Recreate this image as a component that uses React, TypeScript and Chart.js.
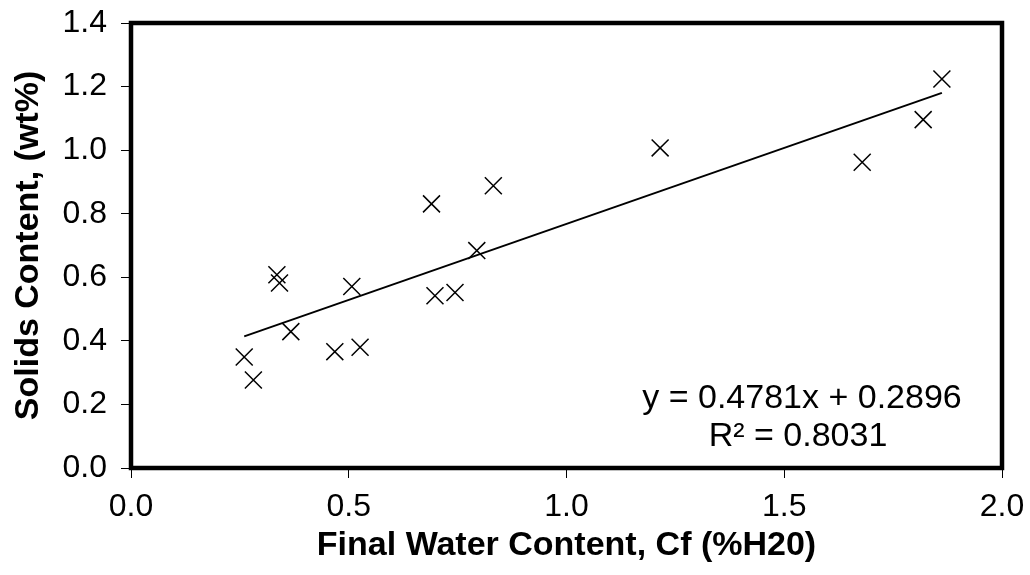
import React, { useEffect, useRef } from "react";
import { Chart, registerables } from "chart.js";

Chart.register(...registerables);

const waterContent = [0.260, 0.281, 0.335, 0.341, 0.367, 0.468, 0.507, 0.526, 0.690, 0.698, 0.744, 0.794, 0.832, 1.215, 1.679, 1.819, 1.862];
const solidsContent = [0.349, 0.277, 0.608, 0.582, 0.429, 0.366, 0.571, 0.380, 0.831, 0.542, 0.552, 0.684, 0.888, 1.007, 0.962, 1.096, 1.224];
const trendX = [0.260, 1.862];
const trendY = [0.414, 1.180];
const equationLines = ["y = 0.4781x + 0.2896", "R² = 0.8031"];
const xTicks = [0.0, 0.5, 1.0, 1.5, 2.0];
const yTicks = [0.0, 0.2, 0.4, 0.6, 0.8, 1.0, 1.2, 1.4];
const xTitle = "Final Water Content, Cf (%H20)";
const yTitle = "Solids Content, (wt%)";

const FONT = "'Liberation Sans', Arial, sans-serif";

export default function App() {
  const ref = useRef<HTMLCanvasElement | null>(null);

  useEffect(() => {
    if (!ref.current) return;
    const frame = {
      id: "frame",
      afterDatasetsDraw(chart: any) {
        const { ctx, chartArea: a } = chart;
        ctx.save();
        ctx.strokeStyle = "#000";
        ctx.lineWidth = 4.5;
        ctx.strokeRect(a.left, a.top, a.right - a.left, a.bottom - a.top);
        ctx.fillStyle = "#000";
        ctx.font = `34px ${FONT}`;
        ctx.textAlign = "center";
        ctx.textBaseline = "alphabetic";
        ctx.fillText(equationLines[0], a.left + 671, 408);
        ctx.fillText(equationLines[1], a.left + 667, 446);
        ctx.restore();
      },
    };
    const chart = new Chart(ref.current, {
      type: "scatter",
      data: {
        datasets: [
          {
            label: "data",
            data: waterContent.map((x, i) => ({ x, y: solidsContent[i] })),
            pointStyle: "crossRot",
            pointRadius: 12,
            pointHoverRadius: 12,
            borderColor: "#000",
            backgroundColor: "#000",
            pointBorderWidth: 1.5,
            showLine: false,
          },
          {
            label: "trend",
            data: trendX.map((x, i) => ({ x, y: trendY[i] })),
            showLine: true,
            borderColor: "#000",
            borderWidth: 2,
            pointRadius: 0,
            fill: false,
          },
        ],
      },
      options: {
        animation: false,
        responsive: true,
        maintainAspectRatio: false,
        layout: { padding: { top: 23, right: 28, left: 0, bottom: 0 } },
        plugins: { legend: { display: false }, tooltip: { enabled: false } },
        scales: {
          x: {
            type: "linear",
            min: 0,
            max: 2,
            afterBuildTicks: (s: any) => {
              s.ticks = xTicks.map((v) => ({ value: v }));
            },
            afterFit: (s: any) => {
              s.height = 575 - 468;
              s.paddingLeft = 0;
              s.paddingRight = 0;
            },
            ticks: {
              color: "#000",
              font: { family: FONT, size: 32 },
              padding: 10,
              callback: (v: any) => Number(v).toFixed(1),
              maxRotation: 0,
            },
            grid: {
              display: true,
              drawOnChartArea: false,
              drawTicks: true,
              tickLength: 10,
              color: "#000",
              lineWidth: 1,
            },
            border: { display: false },
            title: {
              display: true,
              text: xTitle,
              color: "#000",
              font: { family: FONT, size: 34, weight: "bold" },
              padding: { top: 0, bottom: 9 },
            },
          },
          y: {
            type: "linear",
            min: 0,
            max: 1.4,
            afterBuildTicks: (s: any) => {
              s.ticks = yTicks.map((v) => ({ value: v }));
            },
            afterFit: (s: any) => {
              s.width = 131;
              s.paddingTop = 0;
              s.paddingBottom = 0;
            },
            ticks: {
              color: "#000",
              font: { family: FONT, size: 32 },
              padding: 14,
              callback: (v: any) => Number(v).toFixed(1),
            },
            grid: {
              display: true,
              drawOnChartArea: false,
              drawTicks: true,
              tickLength: 10,
              color: "#000",
              lineWidth: 1,
            },
            border: { display: false },
            title: {
              display: true,
              text: yTitle,
              color: "#000",
              font: { family: FONT, size: 34, weight: "bold" },
              padding: { top: 8, bottom: 0 },
            },
          },
        },
      },
      plugins: [frame],
    });
    return () => chart.destroy();
  }, []);

  return (
    <div style={{ position: "absolute", left: 0, top: 0, width: 1030, height: 575, background: "#fff" }}>
      <canvas ref={ref} />
    </div>
  );
}
